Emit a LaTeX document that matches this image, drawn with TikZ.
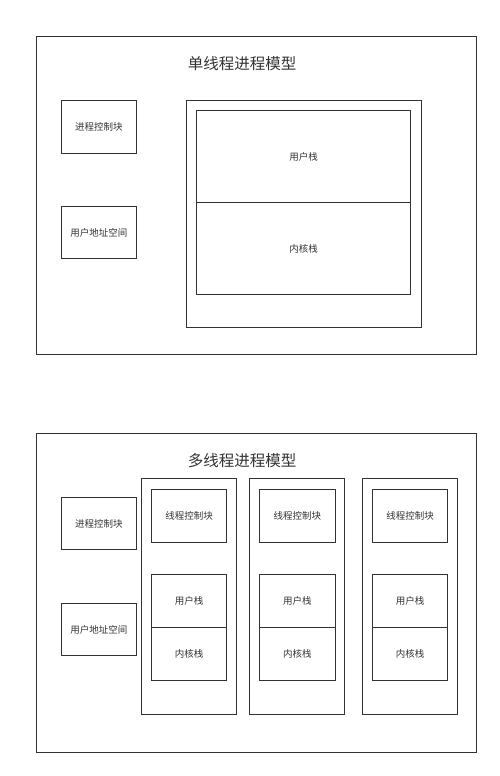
\documentclass[tikz,border=0pt]{standalone}
\usepackage{fontspec}
\newfontfamily\cjk{Noto Sans CJK SC}
\definecolor{ln}{HTML}{333333}
\tikzset{
  box/.style={draw=ln, line width=1pt, inner sep=0pt, text=ln, font=\cjk\fontsize{9.5}{11}\selectfont},
  frame/.style={draw=ln, line width=1pt},
  ttl/.style={text=ln, font=\cjk\fontsize{15.5}{18}\selectfont, inner sep=0pt}
}
\newcommand{\bx}[6]{\node[box, minimum width=#4pt-#2pt, minimum height=#5pt-#3pt, anchor=north west] (#1) at (#2,#3) {#6};}
\begin{document}
\begin{tikzpicture}[x=1pt,y=-1pt]
\useasboundingbox (0,0) rectangle (500,776);
% top
\node[frame, minimum width=440.3pt, minimum height=318pt, anchor=north west, inner sep=0pt] (outerA) at (35.7,36) {};
\node[ttl] (titleA) at (242,64) {单线程进程模型};
\bx{pcbA}{60.7}{100}{136}{152.5}{进程控制块}
\bx{uasA}{60.7}{205.7}{136}{258.3}{用户地址空间}
\node[frame, minimum width=235.3pt, minimum height=227pt, anchor=north west, inner sep=0pt] (thrA) at (185.7,99.7) {};
\bx{usA}{196}{110.3}{410.3}{202}{用户栈}
\bx{ksA}{196}{202}{410.3}{294}{内核栈}
% bottom
\node[frame, minimum width=440.3pt, minimum height=318.7pt, anchor=north west, inner sep=0pt] (outerB) at (35.7,433) {};
\node[ttl] (titleB) at (242,461) {多线程进程模型};
\bx{pcbB}{60.7}{496.7}{136}{549.3}{进程控制块}
\bx{uasB}{60.7}{602.7}{136}{655.3}{用户地址空间}
\foreach \i/\xo in {1/141,2/249.3,3/362}{
  \node[frame, minimum width=95pt, minimum height=236pt, anchor=north west, inner sep=0pt] (col\i) at (\xo,478.3) {};
  \node[box, minimum width=75.6pt, minimum height=52.7pt, anchor=north west] (tcb\i) at (\xo+9.7,489.3) {线程控制块};
  \node[box, minimum width=75.6pt, minimum height=52.4pt, anchor=north west] (us\i) at (\xo+9.7,574.3) {用户栈};
  \node[box, minimum width=75.6pt, minimum height=53pt, anchor=north west] (ks\i) at (\xo+9.7,626.7) {内核栈};
}
\end{tikzpicture}
\end{document}
